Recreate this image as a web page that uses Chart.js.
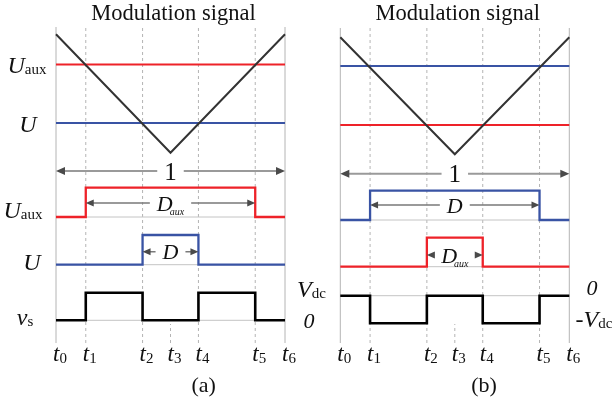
<!DOCTYPE html>
<html>
<head>
<meta charset="utf-8">
<script src="https://cdn.jsdelivr.net/npm/chart.js@4.4.1/dist/chart.umd.min.js"></script>
<style>
  html, body { margin: 0; padding: 0; background: #fff; }
  #wrap { width: 612px; height: 409px; position: relative; }
</style>
</head>
<body>
<div id="wrap"><canvas id="chart"></canvas></div>
<script>
// switching instants over one normalised period, and their subscripts
const tickTimes = [0, 0.13, 0.378, 0.5, 0.622, 0.87, 1];
const tickLabels = ['0', '1', '2', '3', '4', '5', '6'];

// triangular carrier
const carrierTimes = [0, 0.5, 1];
const carrierValues = [1, 0, 1];

// modulation references
const auxLevelA = 0.745;
const mainLevelA = 0.25;
const mainLevelB = 0.755;
const auxLevelB = 0.25;

// gate / output states for each interval t0-t1 ... t5-t6
const auxStatesA = [0, 1, 1, 1, 1, 0];
const mainStatesA = [0, 0, 1, 1, 0, 0];
const vsStatesA = [0, 1, 0, 0, 1, 0];
const mainStatesB = [0, 1, 1, 1, 1, 0];
const auxStatesB = [0, 0, 1, 1, 0, 0];
const vsStatesB = [0, -1, 0, 0, -1, 0];

// dimension arrows (tick index from/to) and their labels
const dimSpansA = [[0, 6], [1, 5], [2, 4]];
const dimLabelsA = [['1', ''], ['D', 'aux'], ['D', '']];
const dimSpansB = [[0, 6], [1, 5], [2, 4]];
const dimLabelsB = [['1', ''], ['D', ''], ['D', 'aux']];

const W = 612, H = 409;
const RED = '#ee2229';
const BLUE = '#3953a4';
const GUIDE = '#b4b4b4';
const SERIF = '"Liberation Serif", "Times New Roman", serif';
const it = s => `italic ${s}px ${SERIF}`;
const rm = s => `${s}px ${SERIF}`;

// layout of each panel (pixel anchors for the hidden scales)
const panels = [
  {
    key: 'a',
    xPx: [56, 285],
    carrierPx: [152.7, 34.3],
    rowsPx: [[0, 217, 1, 187.7], [0, 264.7, 1, 235], [0, 320.3, 1, 292.7]],
    guidePx: [343, 27],
    t3Guide: [0, 0.06],
    dimY: [171, 203, 251.7],
    levels: [auxLevelA, mainLevelA],
    levelColors: [RED, BLUE],
    states: [auxStatesA, mainStatesA, vsStatesA],
    stateColors: [RED, BLUE, '#000'],
    dimSpans: dimSpansA,
    dimLabels: dimLabelsA,
    caption: '(a)',
    captionX: 0.645,
    labels: [
      { parts: [['U', it(24)], ['aux', rm(15), 1]], cx: 27, scale: 'c', v: auxLevelA, dy: 8.5 },
      { parts: [['U', it(24)]], cx: 28, scale: 'c', v: mainLevelA, dy: 8.5 },
      { parts: [['U', it(24)], ['aux', rm(15), 1]], cx: 23, scale: 'r0', v: 0, dy: 1 },
      { parts: [['U', it(24)]], cx: 32, scale: 'r1', v: 0, dy: 5 },
      { parts: [['v', it(24)], ['s', rm(15), 1]], cx: 25, scale: 'r2', v: 0, dy: 5 },
      { parts: [['V', it(24)], ['dc', rm(15), 1]], cx: 311.5, scale: 'r2', v: 1, dy: 4.5 },
      { parts: [['0', it(22)]], cx: 309, scale: 'r2', v: 0, dy: 7.5 }
    ]
  },
  {
    key: 'b',
    xPx: [340.3, 569.3],
    carrierPx: [154.3, 37.3],
    rowsPx: [[0, 220, 1, 190.7], [0, 266.7, 1, 237.7], [0, 295.7, -1, 323.3]],
    guidePx: [343, 28],
    t3Guide: [0, 0.06],
    dimY: [173.7, 205, 255],
    levels: [mainLevelB, auxLevelB],
    levelColors: [BLUE, RED],
    states: [mainStatesB, auxStatesB, vsStatesB],
    stateColors: [BLUE, RED, '#000'],
    dimSpans: dimSpansB,
    dimLabels: dimLabelsB,
    caption: '(b)',
    captionX: 0.628,
    labels: [
      { parts: [['0', it(22)]], cx: 592, scale: 'r2', v: 0, dy: -0.5 },
      { parts: [['-V', it(24)], ['dc', rm(15), 1]], cx: 594, scale: 'r2', v: -1, dy: 4 }
    ]
  }
];

// min/max so that value v0 sits at pixel p0 and v1 at p1
function xRange(v0, p0, v1, p1) {
  const k = (p1 - p0) / (v1 - v0);
  const min = v0 - p0 / k;
  return { min: min, max: min + W / k };
}
function yRange(v0, p0, v1, p1) {
  const k = (p0 - p1) / (v1 - v0);
  const min = v0 - (H - p0) / k;
  return { min: min, max: min + H / k };
}

const scales = {};
const datasets = [];
const hidden = { type: 'linear', display: false };

panels.forEach(p => {
  const k = p.key;
  scales['x' + k] = Object.assign({}, hidden, { axis: 'x', position: 'bottom' }, xRange(0, p.xPx[0], 1, p.xPx[1]));
  scales['c' + k] = Object.assign({}, hidden, { axis: 'y' }, yRange(0, p.carrierPx[0], 1, p.carrierPx[1]));
  scales['g' + k] = Object.assign({}, hidden, { axis: 'y' }, yRange(0, p.guidePx[0], 1, p.guidePx[1]));
  p.rowsPx.forEach((r, i) => {
    scales['r' + i + k] = Object.assign({}, hidden, { axis: 'y' }, yRange(r[0], r[1], r[2], r[3]));
  });

  const xs = 'x' + k;
  // vertical guides
  tickTimes.forEach((t, i) => {
    const solid = i === 0 || i === tickTimes.length - 1;
    const span = i === 3 ? p.t3Guide : [0, 1];
    datasets.push({
      data: [{ x: t, y: span[0] }, { x: t, y: span[1] }],
      xAxisID: xs, yAxisID: 'g' + k,
      borderColor: GUIDE, borderWidth: 1,
      borderDash: solid ? [] : [3, 3],
      order: 10
    });
  });
  // thin reference baseline under each pulse row
  p.rowsPx.forEach((r, i) => {
    datasets.push({
      data: [{ x: tickTimes[0], y: 0 }, { x: tickTimes[tickTimes.length - 1], y: 0 }],
      xAxisID: xs, yAxisID: 'r' + i + k,
      borderColor: '#c4c4c4', borderWidth: 1,
      order: 9
    });
  });
  // reference levels
  p.levels.forEach((lv, i) => {
    datasets.push({
      data: [{ x: 0, y: lv }, { x: 1, y: lv }],
      xAxisID: xs, yAxisID: 'c' + k,
      borderColor: p.levelColors[i], borderWidth: 2,
      order: 3
    });
  });
  // carrier
  datasets.push({
    data: carrierTimes.map((t, i) => ({ x: t, y: carrierValues[i] })),
    xAxisID: xs, yAxisID: 'c' + k,
    borderColor: '#333333', borderWidth: 2,
    borderJoinStyle: 'miter',
    order: 2
  });
  // pulse trains
  p.states.forEach((st, i) => {
    datasets.push({
      data: tickTimes.map((t, j) => ({ x: t, y: st[Math.min(j, st.length - 1)] })),
      xAxisID: xs, yAxisID: 'r' + i + k,
      stepped: 'before',
      borderColor: p.stateColors[i],
      borderWidth: i === 2 ? 2.6 : 2.3,
      borderJoinStyle: 'miter',
      order: 1
    });
  });
});

function drawParts(ctx, cx, baseY, parts) {
  let total = 0;
  const widths = parts.map(pt => {
    ctx.font = pt[1];
    const w = ctx.measureText(pt[0]).width + (pt[3] || 0);
    total += w;
    return w;
  });
  let x = cx - total / 2;
  parts.forEach((pt, i) => {
    ctx.font = pt[1];
    ctx.fillText(pt[0], x, baseY + (pt[2] || 0));
    x += widths[i];
  });
  return total;
}

function partsWidth(ctx, parts) {
  let total = 0;
  parts.forEach(pt => {
    ctx.font = pt[1];
    total += ctx.measureText(pt[0]).width + (pt[3] || 0);
  });
  return total;
}

function arrowHead(ctx, x, y, dir, len, half) {
  ctx.beginPath();
  ctx.moveTo(x, y);
  ctx.lineTo(x - dir * len, y - half);
  ctx.lineTo(x - dir * len, y + half);
  ctx.closePath();
  ctx.fill();
}

const diagramText = {
  id: 'diagramText',
  afterDatasetsDraw(chart) {
    const ctx = chart.ctx;
    ctx.save();
    ctx.textBaseline = 'alphabetic';
    ctx.textAlign = 'left';
    panels.forEach(p => {
      const k = p.key;
      const xs = chart.scales['x' + k];

      // title
      ctx.fillStyle = '#111';
      drawParts(ctx, xs.getPixelForValue(0.5) + 3, 20, [['Modulation signal', rm(22.5)]]);

      // dimension arrows
      p.dimSpans.forEach((sp, j) => {
        const big = j === 0;
        const x0 = xs.getPixelForValue(tickTimes[sp[0]]);
        const x1 = xs.getPixelForValue(tickTimes[sp[1]]);
        const y = p.dimY[j];
        const cx = (x0 + x1) / 2;
        const lab = p.dimLabels[j];
        const parts = big
          ? [[lab[0], rm(25)]]
          : (lab[1] ? [[lab[0], it(22), 0, -3], [lab[1], it(10), 4]] : [[lab[0], it(22)]]);
        const w = partsWidth(ctx, parts);
        const gap = w / 2 + 7;
        const len = big ? 9 : 8;
        const half = big ? 4 : 3.5;
        ctx.strokeStyle = big ? '#9a9a9a' : '#7a7a7a';
        ctx.lineWidth = big ? 2 : 1.4;
        ctx.beginPath();
        ctx.moveTo(x0 + len - 1, y); ctx.lineTo(cx - gap, y);
        ctx.moveTo(cx + gap, y); ctx.lineTo(x1 - len + 1, y);
        ctx.stroke();
        ctx.fillStyle = '#4a4a4a';
        arrowHead(ctx, x0, y, -1, len, half);
        arrowHead(ctx, x1, y, 1, len, half);
        ctx.fillStyle = '#111';
        drawParts(ctx, cx, y + (big ? 8.5 : 7.5), parts);
      });

      // row labels
      ctx.fillStyle = '#111';
      p.labels.forEach(l => {
        const ys = chart.scales[l.scale === 'c' ? 'c' + k : l.scale + k];
        drawParts(ctx, l.cx, ys.getPixelForValue(l.v) + l.dy, l.parts);
      });

      // time labels
      tickTimes.forEach((t, i) => {
        drawParts(ctx, xs.getPixelForValue(t) + 4, 361, [['t', it(23)], [tickLabels[i], rm(15), 2]]);
      });

      // caption
      drawParts(ctx, xs.getPixelForValue(p.captionX), 392, [[p.caption, rm(22)]]);
    });
    ctx.restore();
  }
};

new Chart(document.getElementById('chart'), {
  type: 'line',
  data: { datasets: datasets },
  options: {
    responsive: true,
    maintainAspectRatio: false,
    animation: false,
    layout: { padding: 0 },
    elements: { point: { radius: 0, hoverRadius: 0 }, line: { tension: 0, fill: false } },
    plugins: { legend: { display: false }, tooltip: { enabled: false } },
    events: [],
    scales: scales
  },
  plugins: [diagramText]
});
</script>
</body>
</html>
